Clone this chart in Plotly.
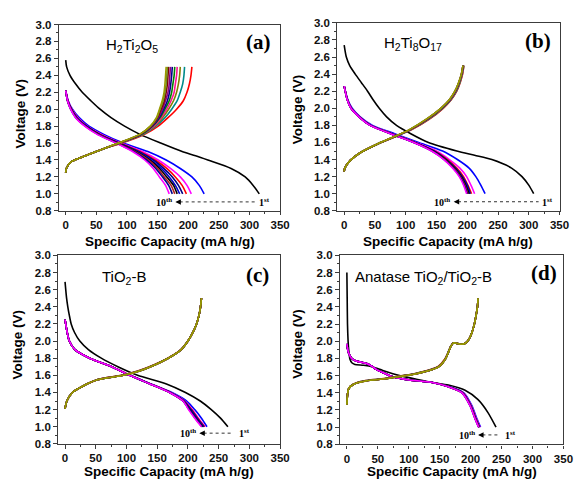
import plotly.graph_objects as go

# ---------------- Panel (a) H2Ti2O5 ----------------
A_D1_V = [2.58, 2.5, 2.4, 2.3, 2.2, 2.1, 2.0, 1.9, 1.8, 1.7, 1.6, 1.5, 1.45, 1.4, 1.3, 1.2, 1.1, 1.0]
A_D1_CAP = [0, 1.5, 7, 16, 27, 41, 56, 74, 96, 122, 155, 190, 212, 232, 270, 293, 306, 316]
A_D_V = [2.22, 2.1, 2.0, 1.9, 1.8, 1.7, 1.6, 1.5, 1.4, 1.3, 1.2, 1.1, 1.0]
A_D_CAPS = [
    [0, 4, 11, 22, 38, 63, 94, 134, 164, 187, 206, 218, 226],
    [0, 4, 10, 20, 35, 59, 90, 125, 151, 171, 187, 198, 205],
    [0, 3.5, 9.5, 19, 34, 57, 88, 121, 146, 165, 179, 190, 197],
    [0, 3.5, 9, 18, 34, 56, 87, 119, 143, 160, 174, 184, 191],
    [0, 3, 9, 18, 33, 55, 86, 117, 139, 156, 169, 179, 186],
    [0, 3, 9, 17, 33, 55, 85, 115, 137, 153, 165, 176, 182],
    [0, 3, 8.5, 17, 32, 54, 84, 113, 135, 150, 161, 172, 178],
    [0, 3, 8, 16.5, 32, 53, 83, 111, 132, 147, 158, 168, 174],
    [0, 3, 8, 16, 31, 52, 82, 109, 129, 143, 153, 163, 169],
]
A_C_V = [1.25, 1.3, 1.38, 1.43, 1.5, 1.55, 1.6, 1.7, 1.8, 1.9, 2.0, 2.1, 2.2, 2.3, 2.4, 2.5]
A_C_CAPS = [
    [0, 1, 9, 25, 50, 69, 92, 128, 151, 167, 181, 192, 198, 202, 204.5, 206],
    [0, 1, 9, 25, 50, 69, 90, 126, 147, 162, 173, 182, 187, 191, 193, 194],
    [0, 1, 9, 25, 50, 68.5, 89, 124, 145, 158, 168, 176, 181, 184, 186, 187],
    [0, 1, 9, 25, 50, 68.5, 89, 123, 144, 156, 165, 172, 177, 179, 181, 182],
    [0, 1, 9, 25, 50, 68, 88, 123, 142, 154, 162, 169, 173, 175, 177, 178],
    [0, 1, 9, 25, 50, 68, 87, 122, 141, 152.5, 160, 166, 169.5, 171.5, 173, 174],
    [0, 1, 9, 25, 50, 68, 87, 121, 140, 151, 158, 163, 167, 169, 170, 171],
    [0, 1, 9, 25, 50, 68, 86.5, 121, 139, 150, 156, 161, 164, 166, 167, 168],
    [0, 1, 9, 25, 50, 68, 86, 120, 138.5, 149, 154, 159, 162, 164, 165, 166],
    [0, 1, 9, 25, 50, 68, 86, 120, 138, 148, 153, 157.5, 160.5, 162, 163, 164],
]

# ---------------- Panel (b) H2Ti8O17 ----------------
B_D1_V = [2.74, 2.6, 2.5, 2.4, 2.3, 2.2, 2.1, 2.0, 1.9, 1.8, 1.7, 1.6, 1.5, 1.45, 1.4, 1.3, 1.2, 1.1, 1.0]
B_D1_CAP = [0, 3.5, 9, 18, 28, 38, 47, 57, 69, 85, 109, 137, 183, 212, 240, 272, 289, 300, 308]
B_D_V = [2.26, 2.1, 2.0, 1.9, 1.8, 1.7, 1.6, 1.5, 1.4, 1.3, 1.2, 1.1, 1.0]
B_D_CAPS = [
    [0, 6, 13, 26, 46, 83, 121, 160, 184, 203, 214, 222, 229],
    [0, 5.5, 12, 25, 44, 79, 116, 150, 171, 188, 199, 206, 212],
    [0, 5.3, 11.5, 24.5, 43, 78, 115, 147, 168, 183, 194, 201, 207],
    [0, 5.2, 11.4, 24.4, 43, 77.5, 114.5, 146, 166, 181, 192, 200, 205],
    [0, 5.2, 11.3, 24.3, 42.5, 77, 114, 145, 165.5, 180.5, 191.5, 199, 204],
    [0, 5.1, 11.3, 24.3, 42.5, 77, 114, 144.5, 165, 179.5, 190.5, 197.5, 203],
    [0, 5.1, 11.1, 24.1, 42.3, 76.5, 113.5, 143, 163.5, 178, 189, 196, 201],
    [0, 5, 11, 24, 42, 76, 113, 142.5, 162.5, 177, 188, 195, 200],
    [0, 5, 11, 24, 42, 76, 113, 142, 162, 176, 187, 194, 199],
]
B_C_V = [1.26, 1.3, 1.39, 1.48, 1.58, 1.66, 1.75, 1.87, 2.0, 2.1, 2.2, 2.3, 2.4, 2.5]
B_C_CAPS = [
    [0, 1, 10, 26, 54, 81, 110, 138, 161, 174, 183, 188.5, 192.5, 194.5],
    [0, 1, 10, 26, 54, 80.5, 109, 137, 160, 173.5, 182.5, 188, 192, 194.5],
    [0, 1, 10, 26, 53.5, 80, 108.5, 136, 159.5, 173, 182, 187.5, 191.5, 194],
    [0, 1, 10, 26, 53.5, 80, 108, 135.5, 159, 172.5, 181.5, 187, 191.5, 194],
    [0, 1, 10, 26, 53.5, 80, 107.5, 135, 158.5, 172, 181, 187, 191, 193.5],
    [0, 1, 10, 26, 53, 79.5, 107, 134.5, 158, 172, 181, 186.5, 191, 193.5],
    [0, 1, 10, 26, 53, 79.5, 107, 134, 157.5, 171.5, 180.5, 186.5, 190.5, 193],
    [0, 1, 10, 26, 53, 79, 106.5, 133.5, 157, 171, 180, 186, 190.5, 193],
    [0, 1, 10, 26, 53, 79, 106, 133, 157, 171, 180, 186, 190.5, 193],
    [0, 1, 10, 26, 53, 79, 106, 133, 157, 171, 180, 186, 190.5, 193],
]

# ---------------- Panel (c) TiO2-B ----------------
C_D1_V = [2.69, 2.5, 2.4, 2.3, 2.2, 2.1, 2.0, 1.9, 1.8, 1.7, 1.6, 1.5, 1.4, 1.3, 1.2, 1.1, 1.0]
C_D1_CAP = [0, 2.5, 4.5, 7, 10, 15.5, 24, 38, 59, 86, 118, 165, 196, 220, 238, 253, 265]
C_D_V = [2.25, 2.1, 2.0, 1.9, 1.8, 1.7, 1.6, 1.5, 1.4, 1.3, 1.2, 1.1, 1.0]
C_D_CAPS = [
    [0, 3.5, 7, 16, 40, 76, 106, 140, 174, 198, 211, 222, 231],
    [0, 3.5, 7, 16, 40, 76, 105.5, 139, 172, 195, 207, 217, 228],
    [0, 3.5, 7, 16, 40, 76, 105.5, 139, 171.5, 194, 206, 216, 227],
    [0, 3.5, 7, 16, 40, 76, 105, 138.5, 171, 193.5, 205, 215, 226],
    [0, 3.5, 7, 16, 40, 76, 105, 138.5, 171, 193, 204, 214, 225],
    [0, 3.5, 7, 16, 40, 76, 105, 138, 170.5, 192.5, 203, 213, 224],
    [0, 3.5, 7, 16, 40, 76, 105, 138, 170, 192, 202, 212, 223],
    [0, 3.5, 7, 16, 40, 76, 105, 138, 170, 192, 202, 212, 223],
    [0, 3.5, 7, 16, 40, 76, 105, 138, 170, 192, 201, 211, 222],
]
C_C_V = [1.21, 1.3, 1.4, 1.47, 1.55, 1.6, 1.65, 1.7, 1.8, 1.9, 2.0, 2.1, 2.2, 2.3, 2.4, 2.5]
C_C_CAPS = [
    [0, 3, 12, 28, 53, 92, 118, 137, 167, 188.5, 200, 208, 214, 218, 220.5, 222],
    [0, 3, 12, 28, 53.5, 93, 119, 138, 167.5, 189, 200, 208, 214, 218, 220.5, 222],
    [0, 3, 12, 28, 54, 94, 120, 138.5, 168, 189, 200, 208, 214, 218, 220.5, 222],
    [0, 3, 12, 28, 54, 94, 120.5, 139, 168, 189, 200, 208, 214, 218, 220.5, 222],
    [0, 3, 12, 28, 54, 95, 121, 139, 168, 189, 200, 208, 214, 218, 220.5, 222],
    [0, 3, 12, 28, 54, 95, 121, 139, 168, 189, 200, 208, 214, 218, 220.5, 222],
    [0, 3, 12, 28, 54, 95, 121, 139, 168, 189, 200, 208, 214, 218, 220.5, 222],
    [0, 3, 12, 28, 54, 95, 121, 139, 168, 189, 200, 208, 214, 218, 220.5, 222],
    [0, 3, 12, 28, 54, 95, 121, 139, 168, 189, 200, 208, 214, 218, 220.5, 222],
    [0, 3, 12, 28, 54, 95, 121, 139, 168, 189, 200, 208, 214, 218, 220.5, 222],
]

# ---------------- Panel (d) Anatase TiO2/TiO2-B ----------------
D_D1_V = [2.80, 2.5, 2.2, 2.0, 1.9, 1.79, 1.75, 1.73, 1.72, 1.70, 1.66, 1.60, 1.56, 1.52, 1.49, 1.43, 1.32, 1.17, 1.0]
D_D1_CAP = [0, 0.5, 1, 2, 3, 5, 8, 13, 27, 42, 58, 85, 111, 138, 164, 191, 212, 228, 241]
D_D_V = [1.97, 1.92, 1.86, 1.80, 1.77, 1.76, 1.74, 1.71, 1.67, 1.63, 1.60, 1.57, 1.55, 1.535, 1.52, 1.47, 1.40, 1.25, 1.10, 1.0]
D_D_CAPS = [
    [0, 1, 3, 8, 15, 21, 32, 40, 48, 60, 69, 85, 101, 120, 139, 166, 189, 202, 210, 216],
    [0, 1, 3, 8, 15, 21, 32, 40, 48, 60, 69, 85, 101, 120, 138.5, 165.5, 188, 201, 209, 215],
    [0, 1, 3, 8, 15, 21, 32, 40, 48, 60, 69, 85, 101, 120, 138.5, 165, 187.5, 200.5, 208.5, 214.5],
    [0, 1, 3, 8, 15, 21, 32, 40, 48, 60, 69, 85, 101, 120, 138, 165, 187, 200, 208, 214],
    [0, 1, 3, 8, 15, 21, 32, 40, 48, 60, 69, 85, 101, 120, 138, 164.5, 187, 200, 208, 214],
    [0, 1, 3, 8, 15, 21, 32, 40, 48, 60, 69, 85, 101, 120, 138, 164.5, 186.5, 199.5, 207.5, 213.5],
    [0, 1, 3, 8, 15, 21, 32, 40, 48, 60, 69, 85, 101, 120, 138, 164, 186.5, 199.5, 207.5, 213.5],
    [0, 1, 3, 8, 15, 21, 32, 40, 48, 60, 69, 85, 101, 120, 138, 164, 186, 199, 207, 213],
    [0, 1, 3, 8, 15, 21, 32, 40, 48, 60, 69, 85, 101, 120, 138, 164, 186, 199, 207, 213],
]
D_C_V = [1.26, 1.38, 1.45, 1.50, 1.54, 1.56, 1.59, 1.62, 1.67, 1.71, 1.79, 1.87, 1.94, 1.98, 1.975, 1.965, 1.98, 2.02, 2.1, 2.2, 2.31, 2.4, 2.5]
D_C_CAPS = [
    [0, 1, 3, 10, 28, 53, 80, 107, 135, 148, 158, 163.5, 167.5, 171.5, 178, 186, 192, 197, 202, 206, 209, 211, 212],
    [0, 1, 3, 10.5, 29, 55, 82, 108, 136, 149, 158.5, 163.5, 167.5, 171.5, 178, 186, 192, 197, 202, 206, 209, 211, 212],
    [0, 1, 3, 10.5, 30, 56, 83, 109, 136.5, 149, 158.5, 164, 168, 172, 178, 186, 192, 197, 202, 206, 209, 211, 212],
    [0, 1, 3, 11, 31, 57, 84, 110, 137, 149.5, 159, 164, 168, 172, 178, 186, 192, 197, 202, 206, 209, 211, 212],
    [0, 1, 3, 11, 31, 57, 84, 110, 137, 149.5, 159, 164, 168, 172, 178, 186, 192, 197, 202, 206, 209, 211, 212],
    [0, 1, 3, 11, 31.5, 57.5, 84.5, 110.5, 137.5, 150, 159, 164, 168, 172, 178, 186, 192, 197, 202, 206, 209, 211, 212],
    [0, 1, 3, 11, 32, 58, 85, 111, 138, 150, 159, 164, 168, 172, 178, 186, 192, 197, 202, 206, 209, 211, 212],
    [0, 1, 3, 11, 32, 58, 85, 111, 138, 150, 159, 164, 168, 172, 178, 186, 192, 197, 202, 206, 209, 211, 212],
    [0, 1, 3, 11, 32, 58, 85, 111, 138, 150, 159, 164, 168, 172, 178, 186, 192, 197, 202, 206, 209, 211, 212],
    [0, 1, 3, 11, 32, 58, 85, 111, 138, 150, 159, 164, 168, 172, 178, 186, 192, 197, 202, 206, 209, 211, 212],
]

DIS_COLORS = ['#0000FF', '#FF00FF', '#FF0000', '#000080', '#0000CD', '#000000', '#B22222', '#00008B', '#FF00FF']
CHG_COLORS = ['#FF0000', '#008B8B', '#808000', '#FF1493', '#008000', '#00008B', '#8B008B', '#800000', '#6B8E23', '#9A9A00']

PANEL_TITLES = ['H<sub>2</sub>Ti<sub>2</sub>O<sub>5</sub>', 'H<sub>2</sub>Ti<sub>8</sub>O<sub>17</sub>',
                'TiO<sub>2</sub>-B', 'Anatase TiO<sub>2</sub>/TiO<sub>2</sub>-B']
PANEL_LETTERS = ['(a)', '(b)', '(c)', '(d)']
X_TITLE = 'Specific Capacity (mA h/g)'
Y_TITLE = 'Voltage (V)'

fig = go.Figure()

panels = [
    (A_D1_CAP, A_D1_V, A_D_CAPS, A_D_V, A_C_CAPS, A_C_V),
    (B_D1_CAP, B_D1_V, B_D_CAPS, B_D_V, B_C_CAPS, B_C_V),
    (C_D1_CAP, C_D1_V, C_D_CAPS, C_D_V, C_C_CAPS, C_C_V),
    (D_D1_CAP, D_D1_V, D_D_CAPS, D_D_V, D_C_CAPS, D_C_V),
]

LW = 1.6
SM = 0.7
for i, (d1c, d1v, dcaps, dv, ccaps, cv) in enumerate(panels):
    xa = 'x' if i == 0 else 'x%d' % (i + 1)
    ya = 'y' if i == 0 else 'y%d' % (i + 1)
    fig.add_trace(go.Scatter(x=d1c, y=d1v, mode='lines', xaxis=xa, yaxis=ya,
                             line=dict(color='#000000', width=LW, shape='spline', smoothing=SM),
                             showlegend=False, hoverinfo='skip'))
    for cap, col in zip(dcaps, DIS_COLORS):
        fig.add_trace(go.Scatter(x=cap, y=dv, mode='lines', xaxis=xa, yaxis=ya,
                                 line=dict(color=col, width=LW, shape='spline', smoothing=SM),
                                 showlegend=False, hoverinfo='skip'))
    for cap, col in zip(ccaps, CHG_COLORS):
        fig.add_trace(go.Scatter(x=cap, y=cv, mode='lines', xaxis=xa, yaxis=ya,
                                 line=dict(color=col, width=LW, shape='spline', smoothing=SM),
                                 showlegend=False, hoverinfo='skip'))

W, H = 583, 484
# plot areas in pixels: (left, right, top, bottom)
boxes = [(60, 285, 19, 210), (343.3, 569.3, 17.3, 210), (59.3, 285, 255.7, 449), (346, 573.3, 255.7, 449.5)]
AX_COL = '#3c3c3c'
tickfont = dict(family='Liberation Sans, Arial, sans-serif', size=11.5, color='#111111', weight='bold')

layout_axes = {}
for i, (l, r, t, b) in enumerate(boxes):
    sx = '' if i == 0 else str(i + 1)
    layout_axes['xaxis' + sx] = dict(
        domain=[l / W, r / W], anchor='y' + sx, range=[-11, 350], tick0=0, dtick=50,
        showline=True, mirror=True, linecolor=AX_COL, linewidth=1.3,
        ticks='outside', ticklen=3.5, tickwidth=1, tickcolor=AX_COL,
        minor=dict(dtick=25, ticks='outside', ticklen=2, tickcolor=AX_COL, showgrid=False),
        showgrid=False, zeroline=False, tickfont=tickfont)
    layout_axes['yaxis' + sx] = dict(
        domain=[1 - b / H, 1 - t / H], anchor='x' + sx, range=[0.8, 3.0], tick0=0.8, dtick=0.2,
        tickformat='.1f',
        showline=True, mirror=True, linecolor=AX_COL, linewidth=1.3,
        ticks='outside', ticklen=4, tickwidth=1, tickcolor=AX_COL,
        minor=dict(dtick=0.1, ticks='outside', ticklen=2, tickcolor=AX_COL, showgrid=False),
        showgrid=False, zeroline=False, tickfont=tickfont)

annotations = []
titlefont = dict(family='Liberation Sans, Arial, sans-serif', size=13.5, color='black', weight='bold')
# axis titles
xt_pos = [(172.5, 241.5), (456.3, 241.5), (172.2, 477), (459.7, 477)]
yt_pos = [(20.5, 110), (303, 106), (17.5, 347), (303, 346.5)]
for (xp, yp) in xt_pos:
    annotations.append(dict(text=X_TITLE, x=xp / W, y=1 - yp / H, xref='paper', yref='paper',
                            showarrow=False, xanchor='center', yanchor='middle', font=titlefont))
for (xp, yp) in yt_pos:
    annotations.append(dict(text=Y_TITLE, x=xp / W, y=1 - yp / H, xref='paper', yref='paper',
                            showarrow=False, xanchor='center', yanchor='middle', textangle=-90,
                            font=titlefont))

# material labels and panel letters (data coordinates)
mat_pos = [(63, 2.75), (62, 2.76), (57, 2.74), (10.7, 2.74)]
let_pos = [(338, 2.79), (340, 2.79), (335, 2.77), (342, 2.80)]
for i in range(4):
    xr = 'x' if i == 0 else 'x%d' % (i + 1)
    yr = 'y' if i == 0 else 'y%d' % (i + 1)
    annotations.append(dict(text=PANEL_TITLES[i], x=mat_pos[i][0], y=mat_pos[i][1], xref=xr, yref=yr,
                            showarrow=False, xanchor='left', yanchor='middle',
                            font=dict(family='Liberation Sans, Arial, sans-serif', size=15, color='black')))
    annotations.append(dict(text=PANEL_LETTERS[i], x=let_pos[i][0], y=let_pos[i][1], xref=xr, yref=yr,
                            showarrow=False, xanchor='right', yanchor='middle',
                            font=dict(family='Liberation Serif, Times New Roman, serif', size=21,
                                      color='black', weight='bold')))

# cycle arrows: (tip, dotted end, 1st label x, y)
arrows = [(179, 310, 312, 0.905), (178, 316, 319, 0.906), (218.5, 270, 280, 0.925), (212, 244, 253, 0.91)]
shapes = []
serif = dict(family='Liberation Serif, Times New Roman, serif', size=10, color='black', weight='bold')
for i, (tip, end, lx, yv) in enumerate(arrows):
    xr = 'x' if i == 0 else 'x%d' % (i + 1)
    yr = 'y' if i == 0 else 'y%d' % (i + 1)
    annotations.append(dict(x=tip, y=yv, ax=tip + 7, ay=yv, xref=xr, yref=yr, axref=xr, ayref=yr,
                            showarrow=True, arrowhead=2, arrowsize=1.1, arrowwidth=1,
                            arrowcolor='black', text=''))
    shapes.append(dict(type='line', x0=tip + 7, x1=end, y0=yv, y1=yv, xref=xr, yref=yr,
                       line=dict(color='#333333', width=1, dash='dot')))
    annotations.append(dict(text='10<sup>th</sup>', x=tip - 2, y=yv, xref=xr, yref=yr, showarrow=False,
                            xanchor='right', yanchor='middle', font=serif))
    annotations.append(dict(text='1<sup>st</sup>', x=lx, y=yv, xref=xr, yref=yr, showarrow=False,
                            xanchor='left', yanchor='middle', font=serif))

fig.update_layout(width=W, height=H, margin=dict(l=0, r=0, t=0, b=0),
                  paper_bgcolor='white', plot_bgcolor='white',
                  annotations=annotations, shapes=shapes, **layout_axes)

fig.write_html('out.html')
